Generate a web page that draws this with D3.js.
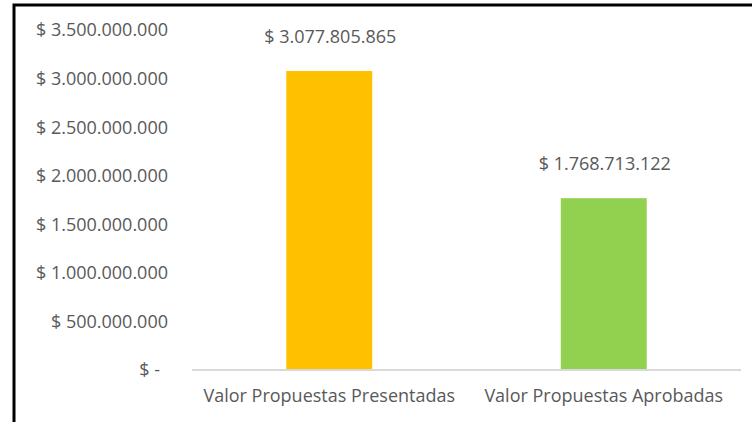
<!DOCTYPE html>
<html>
<head>
<meta charset="utf-8">
<script src="https://cdn.jsdelivr.net/npm/d3@7"></script>
<style>
  html, body { margin: 0; padding: 0; background: #fff; }
  svg { display: block; }
  text { font-family: "Open Sans", sans-serif; fill: #595959; }
</style>
</head>
<body>
<div id="chart"></div>
<script>
const categories = ['Valor Propuestas Presentadas', 'Valor Propuestas Aprobadas'];
const values = [3077805865, 1768713122];
const barColors = ['#FFC000', '#92D050'];
const yTicks = [0, 500000000, 1000000000, 1500000000, 2000000000, 2500000000, 3000000000, 3500000000];

const width = 752;
const height = 422;
const margin = { top: 30, right: 11, bottom: 52, left: 192 };

const locale = d3.formatLocale({ decimal: ',', thousands: '.', grouping: [3], currency: ['$ ', ''] });
const money = locale.format('$,.0f');
const fmt = v => (v === 0 ? '$ -' : money(v));

const svg = d3.select('#chart')
  .append('svg')
  .attr('width', width)
  .attr('height', height);

// frame (only left and top edges visible in the reference)
svg.append('path')
  .attr('d', `M14,${height} V5 H${width}`)
  .attr('fill', 'none')
  .attr('stroke', '#000')
  .attr('stroke-width', 3);

const x = d3.scaleBand()
  .domain(categories)
  .range([margin.left, width - margin.right])
  .paddingInner(0.687)
  .paddingOuter(0.3435);

const y = d3.scaleLinear()
  .domain([0, 3500000000])
  .range([height - margin.bottom, margin.top]);

// y tick labels (accounting format: the dash keeps a trailing gap)
svg.append('g')
  .selectAll('text')
  .data(yTicks)
  .join('text')
  .attr('x', 168)
  .attr('dx', d => (d === 0 ? -8 : 0))
  .attr('y', d => y(d))
  .attr('dy', '0.36em')
  .attr('text-anchor', 'end')
  .style('font-size', '18px')
  .text(fmt);

// bars
svg.append('g')
  .selectAll('rect')
  .data(values)
  .join('rect')
  .attr('x', (d, i) => x(categories[i]))
  .attr('y', d => y(d))
  .attr('width', x.bandwidth())
  .attr('height', d => y(0) - y(d))
  .attr('fill', (d, i) => barColors[i]);

// baseline
svg.append('line')
  .attr('x1', margin.left)
  .attr('x2', width - margin.right)
  .attr('y1', y(0))
  .attr('y2', y(0))
  .attr('stroke', '#D9D9D9')
  .attr('stroke-width', 2);

// data labels
svg.append('g')
  .selectAll('text')
  .data(values)
  .join('text')
  .attr('x', (d, i) => x(categories[i]) + x.bandwidth() / 2 + 1)
  .attr('y', d => y(d) - 28)
  .attr('text-anchor', 'middle')
  .style('font-size', '18px')
  .text(d => money(d));

// category labels
svg.append('g')
  .selectAll('text')
  .data(categories)
  .join('text')
  .attr('x', d => x(d) + x.bandwidth() / 2)
  .attr('y', 402)
  .attr('text-anchor', 'middle')
  .style('font-size', '18px')
  .text(d => d);
</script>
</body>
</html>
